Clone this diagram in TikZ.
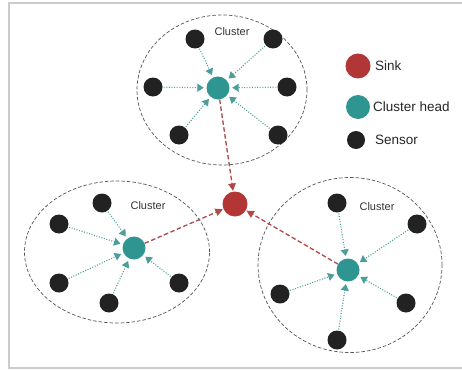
\documentclass[tikz,border=0pt]{standalone}
\usepackage{fontspec}
\setmainfont{Liberation Sans}
\usetikzlibrary{arrows.meta,shapes.geometric}
\definecolor{sinkred}{HTML}{B23636}
\definecolor{headteal}{HTML}{2F9591}
\definecolor{sensorblk}{HTML}{222222}
\definecolor{linkteal}{HTML}{4C9E9B}
\definecolor{uplink}{HTML}{B04848}
\definecolor{framegray}{HTML}{CCCCCC}
\definecolor{clustergray}{HTML}{555555}
\tikzset{
  sinknode/.style={circle, fill=sinkred, minimum size=25pt, inner sep=0pt},
  headnode/.style={circle, fill=headteal, minimum size=23pt, inner sep=0pt},
  sensornode/.style={circle, fill=sensorblk, minimum size=19pt, inner sep=0pt},
  clusterbox/.style={ellipse, draw=clustergray, line width=0.7pt, dash pattern=on 3.5pt off 2pt, inner sep=0pt},
  link/.style={draw=linkteal, line width=1.1pt, dash pattern=on 1pt off 1.6pt, -{Triangle[length=6.5pt,width=8pt]}, shorten >=2.5pt, shorten <=1pt},
  uplinkarrow/.style={draw=uplink, line width=1.3pt, dash pattern=on 4.5pt off 2.5pt, -{Triangle[length=7.5pt,width=7.5pt]}, shorten >=0.5pt},
  clusterlabel/.style={font=\fontsize{11}{13}\selectfont, text=black!80},
  legendlabel/.style={font=\fontsize{13.5}{15}\selectfont, text=black!85, anchor=west, inner sep=0pt}
}
\begin{document}
\begin{tikzpicture}[x=1pt,y=-1pt]
\useasboundingbox (0,0) rectangle (462,369);
\draw[framegray, line width=1.6pt] (462,3) -- (9,3) -- (9,368) -- (462,368);

% cluster ellipses
\node[clusterbox, minimum width=170pt, minimum height=150pt] (c1) at (222,90) {};
\node[clusterbox, minimum width=185pt, minimum height=142pt] (c2) at (117,252) {};
\node[clusterbox, minimum width=184pt, minimum height=175pt] (c3) at (350,265) {};

\node[clusterlabel] (l1) at (232,32) {Cluster};
\node[clusterlabel] (l2) at (148,206) {Cluster};
\node[clusterlabel] (l3) at (377,207) {Cluster};

% sink
\node[sinknode] (sink) at (235,204) {};

% top cluster
\node[headnode] (h1) at (218,88) {};
\node[sensornode] (s11) at (195,39) {};
\node[sensornode] (s12) at (273,39) {};
\node[sensornode] (s13) at (153,87) {};
\node[sensornode] (s14) at (287,87) {};
\node[sensornode] (s15) at (179,135) {};
\node[sensornode] (s16) at (278,135) {};
\foreach \s in {s11,s12,s13,s14,s15,s16} \draw[link] (\s) -- (h1);

% left cluster
\node[headnode] (h2) at (134,248) {};
\node[sensornode] (s21) at (102,203) {};
\node[sensornode] (s22) at (59,224) {};
\node[sensornode] (s23) at (59,283) {};
\node[sensornode] (s24) at (109,303) {};
\node[sensornode] (s25) at (179,283) {};
\foreach \s in {s21,s22,s23,s24,s25} \draw[link] (\s) -- (h2);

% right cluster
\node[headnode] (h3) at (348,270) {};
\node[sensornode] (s31) at (337,203) {};
\node[sensornode] (s32) at (417,224) {};
\node[sensornode] (s33) at (280,294) {};
\node[sensornode] (s34) at (406,303) {};
\node[sensornode] (s35) at (337,340) {};
\foreach \s in {s31,s32,s33,s34,s35} \draw[link] (\s) -- (h3);

% uplinks
\draw[uplinkarrow] (h1) -- (sink);
\draw[uplinkarrow] (h2) -- (sink);
\draw[uplinkarrow] (h3) -- (sink);

% legend
\node[sinknode] (lgs) at (358,66) {};
\node[headnode, minimum size=24pt] (lgh) at (358,107) {};
\node[sensornode, minimum size=18pt] (lgn) at (356,140) {};
\node[legendlabel] (lts) at (375,66) {Sink};
\node[legendlabel] (lth) at (373,107) {Cluster head};
\node[legendlabel] (ltn) at (375,140) {Sensor};
\end{tikzpicture}
\end{document}
